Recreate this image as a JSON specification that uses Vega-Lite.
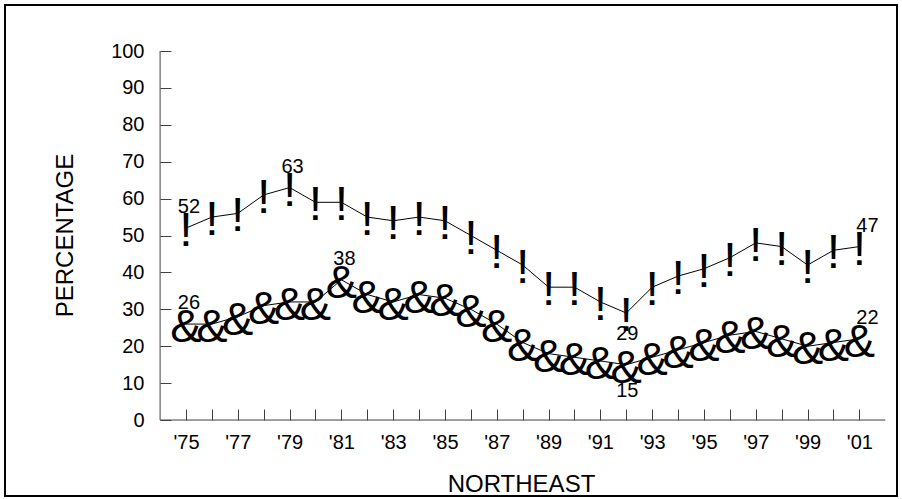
{
  "$schema": "https://vega.github.io/schema/vega-lite/v6.json",
  "width": 892,
  "height": 491,
  "autosize": {"type": "none"},
  "padding": {"left": 5, "top": 5, "right": 5, "bottom": 3},
  "background": "white",
  "config": {
    "view": {"stroke": "black", "strokeWidth": 2},
    "font": "Liberation Sans"
  },
  "data": {
    "values": [
      {"series": "A", "year": 1975, "value": 52},
      {"series": "A", "year": 1976, "value": 55},
      {"series": "A", "year": 1977, "value": 56},
      {"series": "A", "year": 1978, "value": 61},
      {"series": "A", "year": 1979, "value": 63},
      {"series": "A", "year": 1980, "value": 59},
      {"series": "A", "year": 1981, "value": 59},
      {"series": "A", "year": 1982, "value": 55},
      {"series": "A", "year": 1983, "value": 54},
      {"series": "A", "year": 1984, "value": 55},
      {"series": "A", "year": 1985, "value": 54},
      {"series": "A", "year": 1986, "value": 50},
      {"series": "A", "year": 1987, "value": 46},
      {"series": "A", "year": 1988, "value": 42},
      {"series": "A", "year": 1989, "value": 36},
      {"series": "A", "year": 1990, "value": 36},
      {"series": "A", "year": 1991, "value": 32},
      {"series": "A", "year": 1992, "value": 29},
      {"series": "A", "year": 1993, "value": 36},
      {"series": "A", "year": 1994, "value": 39},
      {"series": "A", "year": 1995, "value": 41},
      {"series": "A", "year": 1996, "value": 44},
      {"series": "A", "year": 1997, "value": 48},
      {"series": "A", "year": 1998, "value": 47},
      {"series": "A", "year": 1999, "value": 42},
      {"series": "A", "year": 2000, "value": 46},
      {"series": "A", "year": 2001, "value": 47},
      {"series": "B", "year": 1975, "value": 26},
      {"series": "B", "year": 1976, "value": 26},
      {"series": "B", "year": 1977, "value": 28},
      {"series": "B", "year": 1978, "value": 31},
      {"series": "B", "year": 1979, "value": 32},
      {"series": "B", "year": 1980, "value": 32},
      {"series": "B", "year": 1981, "value": 38},
      {"series": "B", "year": 1982, "value": 34},
      {"series": "B", "year": 1983, "value": 32},
      {"series": "B", "year": 1984, "value": 34},
      {"series": "B", "year": 1985, "value": 33},
      {"series": "B", "year": 1986, "value": 30},
      {"series": "B", "year": 1987, "value": 26},
      {"series": "B", "year": 1988, "value": 21},
      {"series": "B", "year": 1989, "value": 18},
      {"series": "B", "year": 1990, "value": 17},
      {"series": "B", "year": 1991, "value": 16},
      {"series": "B", "year": 1992, "value": 15},
      {"series": "B", "year": 1993, "value": 17},
      {"series": "B", "year": 1994, "value": 19},
      {"series": "B", "year": 1995, "value": 21},
      {"series": "B", "year": 1996, "value": 23},
      {"series": "B", "year": 1997, "value": 24},
      {"series": "B", "year": 1998, "value": 22},
      {"series": "B", "year": 1999, "value": 20},
      {"series": "B", "year": 2000, "value": 21},
      {"series": "B", "year": 2001, "value": 22}
    ]
  },
  "encoding": {
    "x": {
      "field": "year",
      "type": "quantitative",
      "scale": {"domain": [1968.012, 2002.452], "nice": false, "zero": false},
      "axis": {
        "title": "NORTHEAST",
        "values": [1975, 1976, 1977, 1978, 1979, 1980, 1981, 1982, 1983, 1984, 1985, 1986, 1987, 1988, 1989, 1990, 1991, 1992, 1993, 1994, 1995, 1996, 1997, 1998, 1999, 2000, 2001],
        "domain": false,
        "grid": false,
        "ticks": true,
        "tickSize": -11,
        "tickColor": "#404040",
        "tickWidth": 1,
        "labelExpr": "datum.value % 2 == 1 ? \"'\" + slice(toString(datum.value), 2) : ''",
        "labelFontSize": 20,
        "labelColor": "black",
        "labelPadding": 23.5,
        "labelOverlap": false,
        "labelFlush": false,
        "labelBound": false,
        "offset": -76,
        "titleFontSize": 24,
        "titleFontWeight": "normal",
        "titleColor": "black",
        "titleX": 516,
        "titleY": 64,
        "titleAlign": "center",
        "titleBaseline": "middle"
      }
    },
    "y": {
      "field": "value",
      "type": "quantitative",
      "scale": {"domain": [-20.59, 112.47], "nice": false, "zero": false},
      "axis": {
        "title": "PERCENTAGE",
        "values": [0, 10, 20, 30, 40, 50, 60, 70, 80, 90, 100],
        "domain": false,
        "grid": false,
        "tickSize": -11,
        "tickColor": "#404040",
        "tickWidth": 1,
        "labelFontSize": 20,
        "labelColor": "black",
        "labelPadding": 27,
        "labelOverlap": false,
        "labelFlush": false,
        "labelBound": false,
        "offset": -155,
        "titleFontSize": 24,
        "titleFontWeight": "normal",
        "titleColor": "black",
        "titleX": -95,
        "titleY": 230,
        "titleAngle": 270,
        "titleAlign": "center",
        "titleBaseline": "middle"
      }
    }
  },
  "layer": [
    {
      "data": {"values": [
        {"xa": 1974, "xb": 1974, "ya": 0, "yb": 100},
        {"xa": 1974, "xb": 2002, "ya": 0, "yb": 0}
      ]},
      "mark": {"type": "rule", "color": "#404040", "strokeWidth": 1},
      "encoding": {
        "x": {"field": "xa", "type": "quantitative"},
        "x2": {"field": "xb"},
        "y": {"field": "ya", "type": "quantitative"},
        "y2": {"field": "yb"}
      }
    },
    {
      "mark": {"type": "line", "color": "black", "strokeWidth": 1},
      "encoding": {"detail": {"field": "series"}}
    },
    {
      "transform": [{"filter": "datum.series == 'A'"}],
      "mark": {"type": "text", "text": "!", "fontSize": 48, "baseline": "middle", "align": "center", "dy": 4, "color": "black"}
    },
    {
      "transform": [{"filter": "datum.series == 'B'"}],
      "mark": {"type": "text", "text": "&", "fontSize": 47, "baseline": "middle", "align": "center", "dy": 4, "color": "black"}
    },
    {
      "transform": [{"filter": "datum.year == 1975 || (datum.series == 'A' && datum.year == 1979) || (datum.series == 'B' && datum.year == 1981)"}],
      "mark": {"type": "text", "fontSize": 20, "baseline": "middle", "align": "center", "dx": 3, "dy": -21, "color": "black"},
      "encoding": {"text": {"field": "value"}}
    },
    {
      "transform": [{"filter": "datum.year == 1992 && datum.series == 'A'"}],
      "mark": {"type": "text", "fontSize": 20, "baseline": "middle", "align": "center", "dx": 1, "dy": 21, "color": "black"},
      "encoding": {"text": {"field": "value"}}
    },
    {
      "transform": [{"filter": "datum.year == 1992 && datum.series == 'B'"}],
      "mark": {"type": "text", "fontSize": 20, "baseline": "middle", "align": "center", "dx": 1, "dy": 26, "color": "black"},
      "encoding": {"text": {"field": "value"}}
    },
    {
      "transform": [{"filter": "datum.year == 2001"}],
      "mark": {"type": "text", "fontSize": 20, "baseline": "middle", "align": "center", "dx": 8, "dy": -21, "color": "black"},
      "encoding": {"text": {"field": "value"}}
    }
  ]
}
